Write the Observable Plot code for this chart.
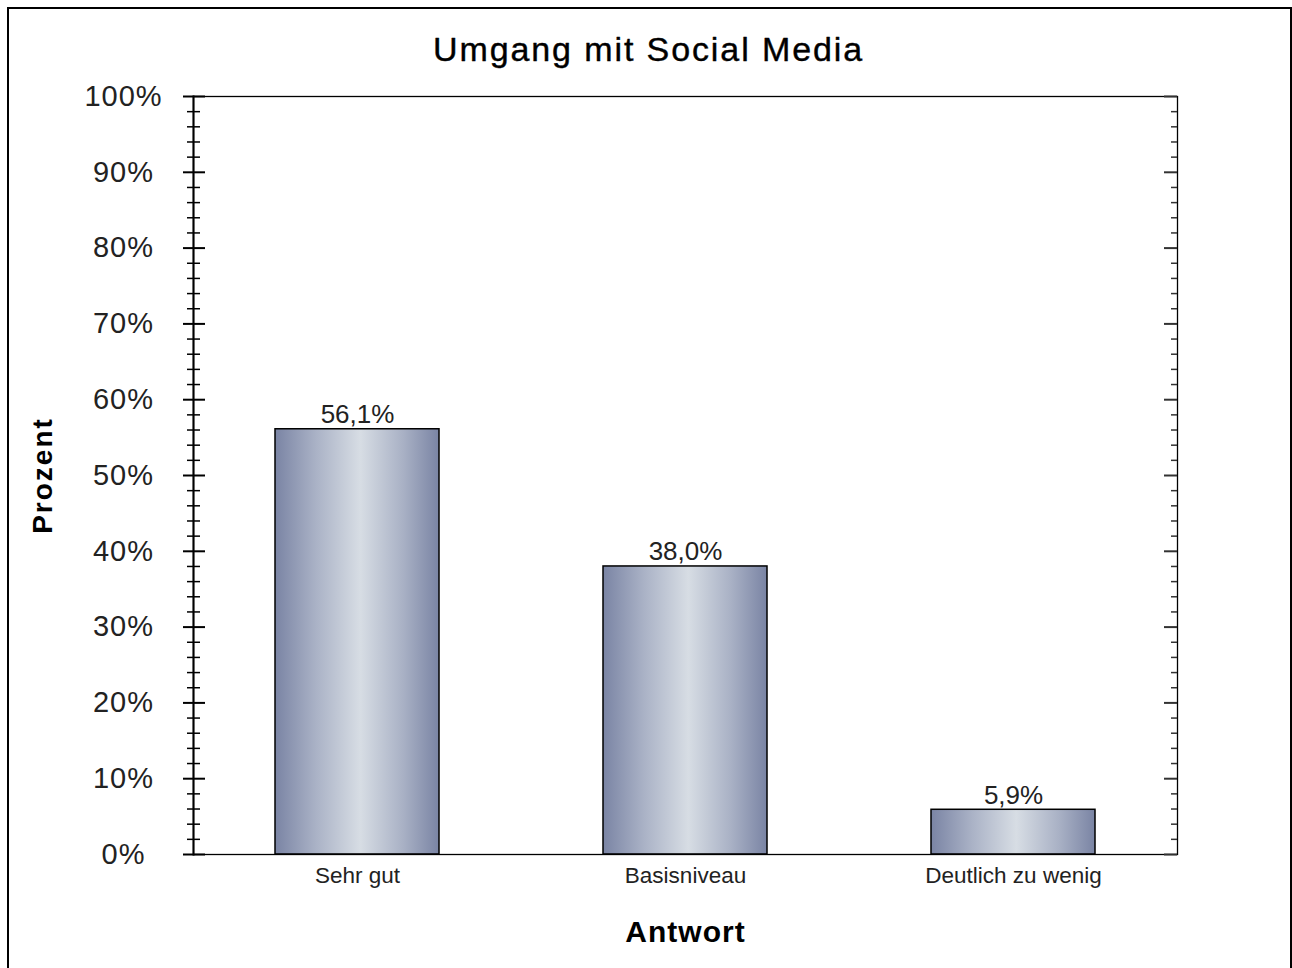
<!DOCTYPE html>
<html>
<head>
<meta charset="utf-8">
<script src="https://cdn.jsdelivr.net/npm/d3@7"></script>
<script src="https://cdn.jsdelivr.net/npm/@observablehq/plot@0.6"></script>
<style>
  html, body { margin: 0; padding: 0; background: #fff; }
  #border { position: absolute; left: 7px; top: 7px; width: 1285px; height: 975px; border: 2px solid #000; box-sizing: border-box; }
  #chart { position: absolute; left: 0; top: 0; }
  #chart svg { font-family: "Liberation Sans", Arial, sans-serif; background: transparent; }
</style>
</head>
<body>
<div id="border"></div>
<div id="chart"></div>
<script>
const title = "Umgang mit Social Media";
const xLabel = "Antwort";
const yLabel = "Prozent";
const categories = ["Sehr gut", "Basisniveau", "Deutlich zu wenig"];
const values = [56.1, 38.0, 5.9];
const yMajorTicks = [0, 10, 20, 30, 40, 50, 60, 70, 80, 90, 100];
const yMinorTicks = d3.range(0, 101, 2).filter(v => v % 10 !== 0);

const data = categories.map((c, i) => ({cat: c, val: values[i]}));
const fmt = v => v.toFixed(1).replace(".", ",") + "%";
const yFmt = d => d + "%";

const W = 1292, H = 968;
const mL = 193, mR = 115, mT = 96, mB = 114;
const plotW = W - mL - mR;

const gradient = () => {
  const defs = d3.create("svg:defs");
  const g = defs.append("linearGradient").attr("id", "barGrad")
    .attr("x1", "0").attr("x2", "1").attr("y1", "0").attr("y2", "0");
  g.append("stop").attr("offset", "0%").attr("stop-color", "#7a84a4");
  g.append("stop").attr("offset", "25%").attr("stop-color", "#aab2c6");
  g.append("stop").attr("offset", "52%").attr("stop-color", "#d7dde4");
  g.append("stop").attr("offset", "78%").attr("stop-color", "#a9b1c5");
  g.append("stop").attr("offset", "100%").attr("stop-color", "#7a84a4");
  return defs.node();
};

const chart = Plot.plot({
  width: W,
  height: H,
  marginLeft: mL,
  marginRight: mR,
  marginTop: mT,
  marginBottom: mB,
  x: {domain: categories, paddingInner: 0.5, paddingOuter: 0.25, axis: null},
  y: {domain: [0, 100], axis: null},
  marks: [
    gradient,
    Plot.barY(data, {x: "cat", y: "val", fill: "url(#barGrad)", stroke: "#000", strokeWidth: 1.5}),
    Plot.frame({stroke: "#000", strokeWidth: 1.3}),
    Plot.tickY(yMajorTicks, {y: d => d, stroke: "#000", strokeWidth: 2, insetLeft: -10, insetRight: plotW - 12}),
    Plot.tickY(yMinorTicks, {y: d => d, stroke: "#000", strokeWidth: 1.5, insetLeft: -6, insetRight: plotW - 7}),
    Plot.tickY(yMajorTicks, {y: d => d, stroke: "#333", strokeWidth: 2, insetLeft: plotW - 13, insetRight: 0}),
    Plot.tickY(yMinorTicks, {y: d => d, stroke: "#333", strokeWidth: 1.5, insetLeft: plotW - 6, insetRight: 0}),
    Plot.text(yMajorTicks, {y: d => d, text: yFmt, frameAnchor: "left", dx: -70, textAnchor: "middle", lineAnchor: "middle", fontSize: 29, fill: "#222"}),
    Plot.frame({anchor: "left", stroke: "#000", strokeWidth: 2}),
    Plot.axisX({tickSize: 0, tickPadding: 13, fontSize: 22.5, label: null, fill: "#222"}),
    Plot.text(data, {x: "cat", y: "val", text: d => fmt(d.val), dy: -6, lineAnchor: "bottom", fontSize: 26, fill: "#222"}),
    Plot.text([title], {frameAnchor: "top", dx: -37, dy: -36, textAnchor: "middle", lineAnchor: "bottom", fontSize: 34, fill: "#000", stroke: "#000", strokeWidth: 0.4}),
    Plot.text([xLabel], {frameAnchor: "bottom", dy: 87, textAnchor: "middle", lineAnchor: "bottom", fontSize: 30, fontWeight: "bold", fill: "#000"}),
    Plot.text([yLabel], {frameAnchor: "left", dx: -150, rotate: -90, textAnchor: "middle", lineAnchor: "middle", fontSize: 28, fontWeight: "bold", fill: "#000"})
  ]
});

const svg = d3.select(chart);
const spacing = new Map([[title, "1.9px"], [xLabel, "1px"], [yLabel, "2px"]]);
svg.selectAll("text").each(function() {
  const t = this.textContent;
  if (spacing.has(t)) d3.select(this).attr("letter-spacing", spacing.get(t));
  else if (yMajorTicks.map(yFmt).includes(t)) d3.select(this).attr("letter-spacing", "1px");
});
document.getElementById("chart").append(chart);
</script>
</body>
</html>
